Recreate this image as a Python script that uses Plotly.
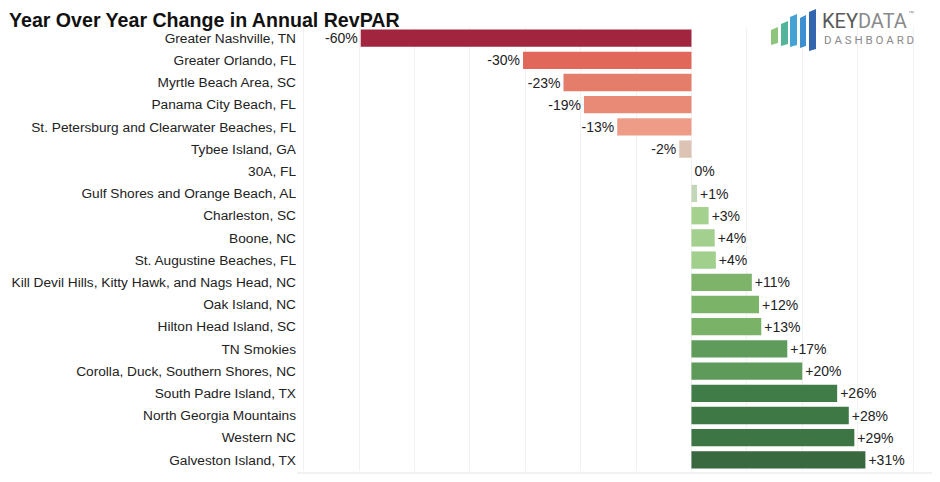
import plotly.graph_objects as go

# ---- data ----
markets = [
    "Greater Nashville, TN",
    "Greater Orlando, FL",
    "Myrtle Beach Area, SC",
    "Panama City Beach, FL",
    "St. Petersburg and Clearwater Beaches, FL",
    "Tybee Island, GA",
    "30A, FL",
    "Gulf Shores and Orange Beach, AL",
    "Charleston, SC",
    "Boone, NC",
    "St. Augustine Beaches, FL",
    "Kill Devil Hills, Kitty Hawk, and Nags Head, NC",
    "Oak Island, NC",
    "Hilton Head Island, SC",
    "TN Smokies",
    "Corolla, Duck, Southern Shores, NC",
    "South Padre Island, TX",
    "North Georgia Mountains",
    "Western NC",
    "Galveston Island, TX",
]
yoy_change = [-59.7, -30.4, -23.1, -19.4, -13.4, -2.2, 0.0, 1.0, 3.1, 4.2, 4.4,
              10.9, 12.2, 12.6, 17.3, 20.0, 26.3, 28.4, 29.4, 31.4]
value_labels = ["-60%", "-30%", "-23%", "-19%", "-13%", "-2%", "0%", "+1%", "+3%",
                "+4%", "+4%", "+11%", "+12%", "+13%", "+17%", "+20%", "+26%",
                "+28%", "+29%", "+31%"]

bar_colors = ["#A1253F", "#E0675A", "#E57D6B", "#E98A77", "#EE9C87", "#DCC3B3",
              "#D8DCCB", "#C3D6B7", "#A5D18F", "#A3D08E", "#A1CF8C", "#7DB46A",
              "#7BB369", "#7AB268", "#5F9B5B", "#5E9A5A", "#407C47", "#3E7845",
              "#3D7644", "#38693F"]

# page body has an 8px offset in the browser
OFF = 8
W, H = 940 - OFF, 482 - OFF
ML, MR, MT, MB = 297 - OFF, 7, 27 - OFF, 11
PW, PH = W - ML - MR, H - MT - MB


def px(x):
    return (x - OFF - ML) / PW


def py(y):
    return 1 - (y - OFF - MT) / PH


fig = go.Figure(
    go.Bar(
        y=markets,
        x=yoy_change,
        orientation="h",
        marker=dict(color=bar_colors, line=dict(width=0)),
        text=value_labels,
        textposition="outside",
        textfont=dict(family="Liberation Sans, Arial, sans-serif", size=14, color="#222222"),
        cliponaxis=False,
        hovertemplate="%{y}: %{text}<extra></extra>",
    )
)

shapes = []
# frame lines
shapes.append(dict(type="line", xref="paper", yref="paper", x0=px(933), x1=px(933),
                   y0=py(8), y1=py(482), line=dict(color="#777777", width=1.5)))
shapes.append(dict(type="line", xref="paper", yref="paper", x0=px(297), x1=px(933),
                   y0=py(473), y1=py(473), line=dict(color="#E4E4E4", width=1)))

# logo bars (decoration)
logo = [
    (771, 778, 27, 45, "#8DC57C"),
    (781, 788, 21, 46, "#52B59A"),
    (790, 797, 14, 47, "#44A3D3"),
    (800, 806, 15, 48, "#3D90CF"),
    (809, 816, 9, 51, "#3466B0"),
]
for x0, x1, y0, y1, c in logo:
    path = (f"M {px(x0)},{py(y0 + 3)} L {px(x1)},{py(y0)} "
            f"L {px(x1)},{py(y1 - 2)} L {px(x0)},{py(y1)} Z")
    shapes.append(dict(type="path", xref="paper", yref="paper", path=path,
                       fillcolor=c, line=dict(width=0)))

annotations = [
    dict(text="<b>Year Over Year Change in Annual RevPAR</b>", xref="paper", yref="paper",
         x=px(8), y=py(8), xanchor="left", yanchor="top", showarrow=False, borderpad=0,
         font=dict(family="Liberation Sans, Arial, sans-serif", size=19.6, color="#111111")),
    dict(text="<span style='color:#5a5a5a'>KEY</span><span style='color:#8a8a8a'>DATA</span>",
         xref="paper", yref="paper", x=px(820), y=py(21), xanchor="left", yanchor="middle",
         showarrow=False, font=dict(family="Roboto, Liberation Sans, sans-serif", size=20)),
    dict(text="™", xref="paper", yref="paper", x=px(906), y=py(13), xanchor="left",
         yanchor="middle", showarrow=False,
         font=dict(family="Liberation Sans, sans-serif", size=6, color="#8a8a8a")),
    dict(text="D A S H B O A R D", xref="paper", yref="paper", x=px(822), y=py(40),
         xanchor="left", yanchor="middle", showarrow=False,
         font=dict(family="Roboto, Liberation Sans, sans-serif", size=11.5, color="#8a8a8a")),
]

fig.update_layout(
    width=W, height=H,
    margin=dict(l=ML, r=MR, t=MT, b=MB, pad=0),
    paper_bgcolor="white", plot_bgcolor="white",
    showlegend=False,
    bargap=0.22,
    shapes=shapes,
    annotations=annotations,
    font=dict(family="Liberation Sans, Arial, sans-serif", size=14, color="#222222"),
    xaxis=dict(range=[-71.2, 43.6], dtick=10, tick0=0, showgrid=True,
               gridcolor="#F1F1F1", gridwidth=1, zeroline=False,
               showticklabels=False, ticks="", showline=False, fixedrange=True),
    yaxis=dict(categoryorder="array", categoryarray=markets, autorange="reversed",
               showgrid=False, zeroline=False, ticks="", ticklen=0, showline=False,
               tickfont=dict(size=13.7, color="#222222"), automargin=False),
)

fig.write_html("out.html")
